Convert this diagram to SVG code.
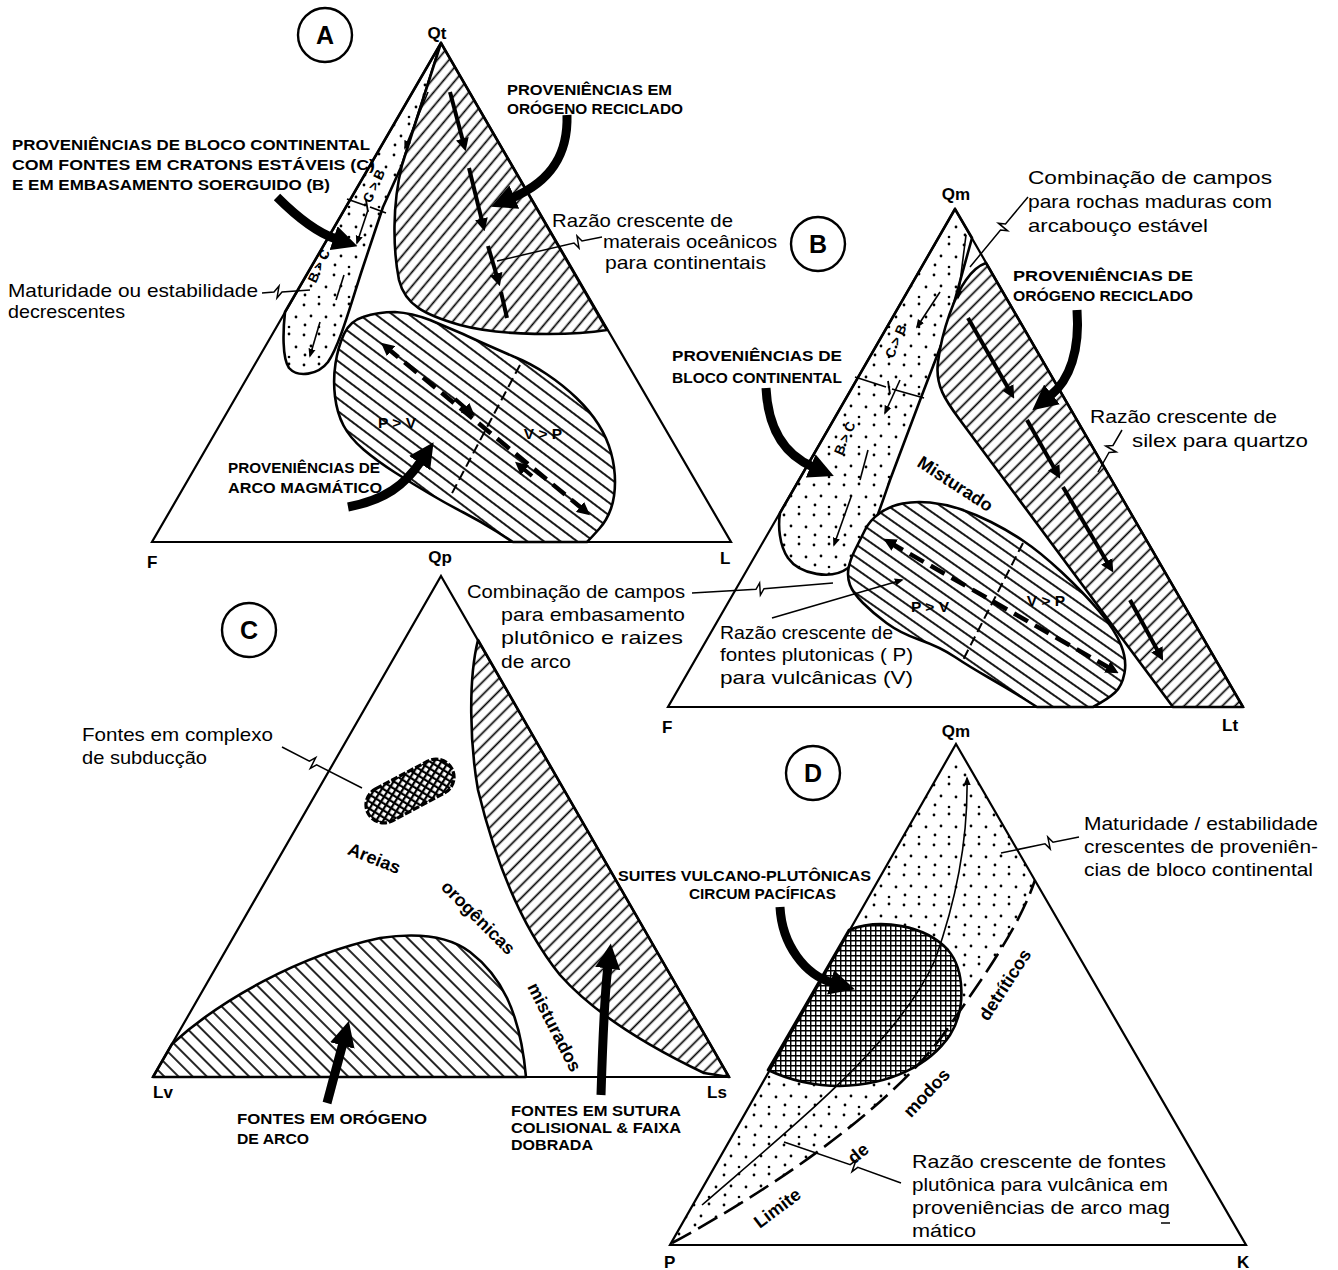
<svg xmlns="http://www.w3.org/2000/svg" width="1338" height="1270" viewBox="0 0 1338 1270">
<defs>
<style>
.tri{fill:none;stroke:#000;stroke-width:2.2;stroke-linejoin:miter}
.reg{stroke:#000;stroke-width:2.6;stroke-linejoin:round}
.t{font-family:"Liberation Sans",Arial,sans-serif;font-size:18.5px;fill:#000}
.c{font-family:"Liberation Sans",Arial,sans-serif;font-size:14.5px;font-weight:bold;fill:#000}
.pv{font-family:"Liberation Sans",Arial,sans-serif;font-size:15.5px;font-weight:bold;fill:#000}
.bc{font-family:"Liberation Sans",Arial,sans-serif;font-size:13.5px;font-weight:bold;fill:#000}
.v{font-family:"Liberation Sans",Arial,sans-serif;font-size:17px;font-weight:bold;fill:#000}
.b{font-family:"Liberation Sans",Arial,sans-serif;font-size:18px;font-weight:bold;fill:#000}
.ring{fill:#fff;stroke:#000;stroke-width:2.4}
.big{fill:none;stroke:#000;stroke-width:9;marker-end:url(#big)}
.ld{fill:none;stroke:#000;stroke-width:1.5}
.dsh{fill:none;stroke:#000;stroke-width:4.5;stroke-dasharray:16 8;marker-start:url(#md);marker-end:url(#md)}
.seg{fill:none;stroke:#000;stroke-width:4;marker-end:url(#md)}
.thin{fill:none;stroke:#000;stroke-width:1.6;marker-end:url(#sm)}
.div{fill:none;stroke:#000;stroke-width:2;stroke-dasharray:10 5}
</style>
<pattern id="h40" patternUnits="userSpaceOnUse" width="9" height="9" patternTransform="rotate(40)"><rect width="9" height="9" fill="#fff"/><line x1="4.5" y1="0" x2="4.5" y2="9" stroke="#000" stroke-width="1.7"/></pattern>
<pattern id="hm53" patternUnits="userSpaceOnUse" width="10" height="10" patternTransform="rotate(-53)"><rect width="10" height="10" fill="#fff"/><line x1="5" y1="0" x2="5" y2="10" stroke="#000" stroke-width="1.8"/></pattern>
<pattern id="h45" patternUnits="userSpaceOnUse" width="9" height="9" patternTransform="rotate(45)"><rect width="9" height="9" fill="#fff"/><line x1="4.5" y1="0" x2="4.5" y2="9" stroke="#000" stroke-width="1.7"/></pattern>
<pattern id="hm55" patternUnits="userSpaceOnUse" width="10" height="10" patternTransform="rotate(-55)"><rect width="10" height="10" fill="#fff"/><line x1="5" y1="0" x2="5" y2="10" stroke="#000" stroke-width="1.8"/></pattern>
<pattern id="hm45" patternUnits="userSpaceOnUse" width="10" height="10" patternTransform="rotate(-45)"><rect width="10" height="10" fill="#fff"/><line x1="5" y1="0" x2="5" y2="10" stroke="#000" stroke-width="1.7"/></pattern>
<pattern id="dots" patternUnits="userSpaceOnUse" width="30" height="30"><rect width="30" height="30" fill="#fff"/><circle cx="4" cy="5" r="1.4"/><circle cx="19" cy="4" r="1.4"/><circle cx="11" cy="16" r="1.4"/><circle cx="26" cy="17" r="1.4"/><circle cx="5" cy="25" r="1.4"/><circle cx="19" cy="27" r="1.3"/></pattern>
<pattern id="xh" patternUnits="userSpaceOnUse" width="5" height="5"><rect width="5" height="5" fill="#fff"/><path d="M0,0.7 H5 M0.7,0 V5" stroke="#000" stroke-width="1.5"/></pattern>
<pattern id="xh2" patternUnits="userSpaceOnUse" width="6" height="6" patternTransform="rotate(-30)"><rect width="6" height="6" fill="#fff"/><path d="M0,1 H6 M1,0 V6" stroke="#000" stroke-width="2.4"/></pattern>
<marker id="big" viewBox="0 0 10 10" refX="1" refY="5" markerWidth="2.8" markerHeight="2.8" orient="auto"><path d="M0,0 L10,5 L0,10 z" fill="#000"/></marker>
<marker id="md" viewBox="0 0 10 10" refX="5" refY="5" markerWidth="13" markerHeight="13" markerUnits="userSpaceOnUse" orient="auto-start-reverse"><path d="M0,0 L10,5 L0,10 z" fill="#000"/></marker>
<marker id="sm" viewBox="0 0 10 10" refX="8" refY="5" markerWidth="9" markerHeight="9" markerUnits="userSpaceOnUse" orient="auto"><path d="M0,1 L10,5 L0,9 z" fill="#000"/></marker>
</defs>
<rect width="1338" height="1270" fill="#fff"/>

<!-- ===== Diagram A ===== -->
<g id="diagramA">
<g id="A-band-stipple"><path class="reg" fill="url(#dots)" d="M441,43 L402,165 L383,207 L363,267 C352,300 340,345 328,362 C318,375 298,378 289,368 C282,358 283,330 285,312 Z"/></g>
<g id="A-recycled-orogen"><path class="reg" fill="url(#h40)" d="M441,43 L607,330 C570,336 500,336 460,325 C425,315 405,305 399,280 C393,250 392,205 402,165 Z"/></g>
<g id="A-magmatic-arc"><path class="reg" fill="url(#hm53)" d="M513,542 L496.5,531.5 Q480,521 463.5,512.5 Q447,504 430,494 Q413,484 395,472.5 Q377,461 363.5,449.5 Q350,438 343.5,425.5 Q337,413 335,396.5 Q333,380 335.5,363.5 Q338,347 344,334 Q350,321 363,317 Q378,312 395,312 Q412,313 430,320 Q446.5,327 463,334 Q480,342 513.5,356.5 Q530,363 546.5,374 Q563,385 576.5,398 Q590,411 598.5,424.5 Q607,438 611,452.5 Q615,467 615,482 Q615,497 611,508.5 Q607,520 599.5,528.5 Q592,537 587,542 Z"/></g>
<g id="A-triangle"><path class="tri" d="M441,43 L731,542 L152,542 Z"/></g>
<g id="A-circle"><circle class="ring" cx="325" cy="35" r="27"/><text x="325" y="44" text-anchor="middle" font-family="Liberation Sans, Arial, sans-serif" font-size="25" font-weight="bold">A</text></g>
<g id="A-labels">
<text class="v" x="437" y="39" text-anchor="middle">Qt</text>
<text class="v" x="147" y="568">F</text>
<text class="v" x="440" y="563" text-anchor="middle">Qp</text>
<text class="v" x="720" y="564">L</text>
<text class="c" x="507" y="95" textLength="165" lengthAdjust="spacingAndGlyphs">PROVENIÊNCIAS  EM</text>
<text class="c" x="507" y="114" textLength="176" lengthAdjust="spacingAndGlyphs">ORÓGENO RECICLADO</text>
<text class="c" x="12" y="150" textLength="358" lengthAdjust="spacingAndGlyphs">PROVENIÊNCIAS DE BLOCO CONTINENTAL</text>
<text class="c" x="12" y="170" textLength="363" lengthAdjust="spacingAndGlyphs">COM FONTES EM CRATONS ESTÁVEIS (C)</text>
<text class="c" x="12" y="190" textLength="318" lengthAdjust="spacingAndGlyphs">E EM EMBASAMENTO SOERGUIDO (B)</text>
<text class="t" x="552" y="227" textLength="181" lengthAdjust="spacingAndGlyphs">Razão crescente de</text>
<text class="t" x="603" y="248" textLength="174" lengthAdjust="spacingAndGlyphs">materais oceânicos</text>
<text class="t" x="605" y="269" textLength="161" lengthAdjust="spacingAndGlyphs">para continentais</text>
<text class="t" x="8" y="297" textLength="250" lengthAdjust="spacingAndGlyphs">Maturidade ou estabilidade</text>
<text class="t" x="8" y="318" textLength="117" lengthAdjust="spacingAndGlyphs">decrescentes</text>
<text class="c" x="228" y="473" textLength="152" lengthAdjust="spacingAndGlyphs">PROVENIÊNCIAS DE</text>
<text class="c" x="228" y="493" textLength="154" lengthAdjust="spacingAndGlyphs">ARCO MAGMÁTICO</text>
<text class="pv" x="397" y="428" text-anchor="middle">P &gt; V</text>
<text class="pv" x="543" y="439" text-anchor="middle">V &gt; P</text>
<text class="bc" transform="translate(378,188) rotate(-65)" text-anchor="middle">C &gt; B</text>
<text class="bc" transform="translate(323,268) rotate(-65)" text-anchor="middle">B &gt; C</text>
</g>
</g>

<!-- ===== Diagram B ===== -->
<g id="diagramB">
<g id="B-band-stipple"><path class="reg" fill="url(#dots)" d="M955,209 L972,238 C966,260 955,300 945,335 L922,395 L890,480 C878,515 866,552 848,568 C832,580 800,575 788,558 C779,545 778,525 780,513 Z"/></g>
<g id="B-recycled-orogen"><path class="reg" fill="url(#h45)" d="M986,263 L1243,707 L1173,707 L960,420 C945,400 935,385 938,362 C942,330 955,295 966,280 C973,270 980,265 986,263 Z"/></g>
<g id="B-magmatic-arc"><path class="reg" fill="url(#hm55)" d="M1037,707 L1022,697.5 Q1007,688 988.5,677.5 Q970,667 955,657 Q940,647 920,640 Q900,633 886.5,623 Q873,613 863,603 Q853,593 850,585 Q847,577 848.5,568.5 Q850,560 855,550 Q860,540 865,530 Q870,520 880,513 Q890,506 902.5,503.5 Q915,501 930,502.5 Q945,504 960,509 Q975,514 991,522 Q1007,530 1023.5,541 Q1040,552 1061.5,572 Q1083,592 1099,611 Q1115,630 1121,645 Q1127,660 1124.5,673 Q1122,686 1115,692.5 Q1108,699 1093,707 Z"/></g>
<g id="B-triangle"><path class="tri" d="M955,209 L1243,707 L668,707 Z"/></g>
<g id="B-circle"><circle class="ring" cx="818" cy="244" r="27"/><text x="818" y="253" text-anchor="middle" font-family="Liberation Sans, Arial, sans-serif" font-size="25" font-weight="bold">B</text></g>
<g id="B-labels">
<text class="v" x="956" y="200" text-anchor="middle">Qm</text>
<text class="v" x="662" y="733">F</text>
<text class="v" x="1222" y="731">Lt</text>
<text class="t" x="1028" y="184" textLength="244" lengthAdjust="spacingAndGlyphs">Combinação de  campos</text>
<text class="t" x="1028" y="208" textLength="244" lengthAdjust="spacingAndGlyphs">para rochas maduras com</text>
<text class="t" x="1028" y="232" textLength="180" lengthAdjust="spacingAndGlyphs">arcabouço estável</text>
<text class="c" x="1013" y="281" textLength="180" lengthAdjust="spacingAndGlyphs">PROVENIÊNCIAS  DE</text>
<text class="c" x="1013" y="301" textLength="180" lengthAdjust="spacingAndGlyphs">ORÓGENO RECICLADO</text>
<text class="c" x="672" y="361" textLength="170" lengthAdjust="spacingAndGlyphs">PROVENIÊNCIAS DE</text>
<text class="c" x="672" y="383" textLength="170" lengthAdjust="spacingAndGlyphs">BLOCO CONTINENTAL</text>
<text class="t" x="1090" y="423" textLength="187" lengthAdjust="spacingAndGlyphs">Razão crescente de</text>
<text class="t" x="1132" y="447" textLength="176" lengthAdjust="spacingAndGlyphs">silex para quartzo</text>
<text class="b" transform="translate(952,489) rotate(33)" text-anchor="middle">Misturado</text>
<text class="t" x="720" y="639" textLength="173" lengthAdjust="spacingAndGlyphs">Razão crescente de</text>
<text class="t" x="720" y="661" textLength="193" lengthAdjust="spacingAndGlyphs">fontes plutonicas ( P)</text>
<text class="t" x="720" y="684" textLength="193" lengthAdjust="spacingAndGlyphs">para vulcânicas  (V)</text>
<text class="pv" x="930" y="612" text-anchor="middle">P &gt; V</text>
<text class="pv" x="1046" y="606" text-anchor="middle">V &gt; P</text>
<text class="bc" transform="translate(900,343) rotate(-67)" text-anchor="middle">C &gt; B</text>
<text class="bc" transform="translate(849,440) rotate(-67)" text-anchor="middle">B &gt; C</text>
</g>
</g>

<!-- ===== Diagram C ===== -->
<g id="diagramC">
<g id="C-suture-band"><path class="reg" fill="url(#h45)" d="M478,640 L729,1077 L704,1073 C660,1052 600,1020 560,975 C520,925 495,860 478,790 C470,745 468,680 478,640 Z"/></g>
<g id="C-arc-orogen"><path class="reg" fill="url(#hm45)" d="M153,1077 L172,1044 C220,1000 300,955 380,938 C420,932 450,937 470,952 C500,975 520,1010 526,1077 Z"/></g>
<g id="C-subduction"><rect x="362.5" y="773" width="95" height="36" rx="18" transform="rotate(-28 410 791)" fill="url(#xh2)" stroke="#000" stroke-width="3.2" stroke-dasharray="7 2"/></g>
<g id="C-triangle"><path class="tri" d="M441,576 L729,1077 L153,1077 Z"/></g>
<g id="C-circle"><circle class="ring" cx="249" cy="630" r="27"/><text x="249" y="639" text-anchor="middle" font-family="Liberation Sans, Arial, sans-serif" font-size="25" font-weight="bold">C</text></g>
<g id="C-labels">
<text class="v" x="153" y="1098">Lv</text>
<text class="v" x="707" y="1098">Ls</text>
<text class="t" x="467" y="598" textLength="218" lengthAdjust="spacingAndGlyphs">Combinação de campos</text>
<text class="t" x="501" y="621" textLength="184" lengthAdjust="spacingAndGlyphs">para embasamento</text>
<text class="t" x="501" y="644" textLength="182" lengthAdjust="spacingAndGlyphs">plutônico  e  raizes</text>
<text class="t" x="501" y="668" textLength="70" lengthAdjust="spacingAndGlyphs">de arco</text>
<text class="t" x="82" y="741" textLength="191" lengthAdjust="spacingAndGlyphs">Fontes em complexo</text>
<text class="t" x="82" y="764" textLength="125" lengthAdjust="spacingAndGlyphs">de subducção</text>
<text class="b" transform="translate(372,864) rotate(22)" text-anchor="middle">Areias</text>
<text class="b" transform="translate(474,922) rotate(45)" text-anchor="middle">orogênicas</text>
<text class="b" transform="translate(549,1030) rotate(63)" text-anchor="middle">misturados</text>
<text class="c" x="618" y="881" textLength="253" lengthAdjust="spacingAndGlyphs">SUITES VULCANO-PLUTÔNICAS</text>
<text class="c" x="689" y="899" textLength="147" lengthAdjust="spacingAndGlyphs">CIRCUM PACÍFICAS</text>
<text class="c" x="237" y="1124" textLength="190" lengthAdjust="spacingAndGlyphs">FONTES EM ORÓGENO</text>
<text class="c" x="237" y="1144" textLength="72" lengthAdjust="spacingAndGlyphs">DE ARCO</text>
<text class="c" x="511" y="1116" textLength="170" lengthAdjust="spacingAndGlyphs">FONTES EM SUTURA</text>
<text class="c" x="511" y="1133" textLength="170" lengthAdjust="spacingAndGlyphs">COLISIONAL &amp; FAIXA</text>
<text class="c" x="511" y="1150" textLength="82" lengthAdjust="spacingAndGlyphs">DOBRADA</text>
</g>
</g>

<!-- ===== Diagram D ===== -->
<g id="diagramD">
<g id="D-stipple"><path fill="url(#dots)" stroke="none" d="M956,744 L670,1245 C780,1185 900,1100 950,1025 C985,975 1020,925 1035,880 Z"/></g>
<g id="D-circum-pacific"><path class="reg" fill="url(#xh)" d="M849,930 C880,918 925,925 948,950 C965,970 966,1010 950,1035 C930,1065 890,1085 840,1086 C810,1086 785,1078 768,1070 Z"/></g>
<g id="D-limit"><path fill="none" stroke="#000" stroke-width="2.6" stroke-dasharray="22 8" d="M672,1243 C780,1185 900,1100 950,1025 C985,975 1020,925 1035,880"/></g>
<g id="D-triangle"><path class="tri" d="M956,744 L1246,1245 L670,1245 Z"/></g>
<g id="D-circle"><circle class="ring" cx="813" cy="773" r="27"/><text x="813" y="782" text-anchor="middle" font-family="Liberation Sans, Arial, sans-serif" font-size="25" font-weight="bold">D</text></g>
<g id="D-labels">
<text class="v" x="956" y="737" text-anchor="middle">Qm</text>
<text class="v" x="664" y="1268">P</text>
<text class="v" x="1237" y="1268">K</text>
<text class="t" x="1084" y="830" textLength="234" lengthAdjust="spacingAndGlyphs">Maturidade / estabilidade</text>
<text class="t" x="1084" y="853" textLength="234" lengthAdjust="spacingAndGlyphs">crescentes de proveniên-</text>
<text class="t" x="1084" y="876" textLength="229" lengthAdjust="spacingAndGlyphs">cias de bloco continental</text>
<text class="t" x="912" y="1168" textLength="254" lengthAdjust="spacingAndGlyphs">Razão crescente de  fontes</text>
<text class="t" x="912" y="1191" textLength="256" lengthAdjust="spacingAndGlyphs">plutônica para vulcânica em</text>
<text class="t" x="912" y="1214" textLength="258" lengthAdjust="spacingAndGlyphs">proveniências de arco  mag</text>
<text class="t" x="912" y="1237" textLength="64" lengthAdjust="spacingAndGlyphs">mático</text>
<text class="b" transform="translate(781,1213) rotate(-37)" text-anchor="middle">Limite</text>
<text class="b" transform="translate(862,1158) rotate(-40)" text-anchor="middle">de</text>
<text class="b" transform="translate(931,1097) rotate(-47)" text-anchor="middle">modos</text>
<text class="b" transform="translate(1010,988) rotate(-57)" text-anchor="middle">detríticos</text>
</g>
</g>

<!-- ===== Connectors ===== -->
<g id="connectors">
<path class="big" d="M567,115 C568,150 555,180 512,198"/>
<path class="big" d="M277,197 C295,215 315,232 336,239"/>
<path class="big" d="M348,507 C385,500 405,485 421,461"/>
<path class="big" d="M1077,310 C1080,350 1070,380 1050,396"/>
<path class="big" d="M766,388 C768,430 785,455 813,467"/>
<path class="big" d="M327,1103 L343,1043"/>
<path class="big" d="M601,1095 C603,1030 605,990 608,966"/>
<path class="big" d="M780,907 C782,945 805,975 833,983"/>
<path class="dsh" d="M386,347 L585,511"/>
<path class="dsh" d="M889,542 L1113,670"/>
<path class="seg" d="M455,399 L470,412"/>
<path class="seg" d="M532,476 L520,466"/>
<path class="div" d="M520,365 L450,497"/>
<path class="div" d="M1023,543 L963,660"/>
<path class="seg" d="M450,92 L464,145"/>
<path class="seg" d="M469,168 L483,225"/>
<path class="seg" d="M488,246 L498,280"/>
<path fill="none" stroke="#000" stroke-width="4" d="M501,292 L507,318"/>
<path class="seg" d="M968,318 L1011,393"/>
<path class="seg" d="M1027,420 L1057,473"/>
<path class="seg" d="M1063,487 L1110,567"/>
<path class="seg" d="M1130,600 L1160,655"/>
<path class="thin" d="M428,92 L405,148"/>
<path class="thin" d="M368,210 L357,243"/>
<path fill="none" stroke="#000" stroke-width="1.6" d="M344,275 L336,300"/>
<path class="thin" d="M320,322 L310,356"/>
<path class="thin" d="M966,235 L958,298"/>
<path class="thin" d="M940,292 L917,327"/>
<path class="thin" d="M900,380 L885,413"/>
<path fill="none" stroke="#000" stroke-width="1.6" d="M868,450 L860,480"/>
<path class="thin" d="M851,497 L834,545"/>
<path fill="none" stroke="#000" stroke-width="1.8" d="M347,199 L364,205 M370,207 L386,213 M366,200 L368,212"/>
<path fill="none" stroke="#000" stroke-width="1.8" d="M855,377 L886,387 M892,389 L924,398 M888,381 L890,394"/>
<path class="thin" d="M702,1205 C800,1120 900,1040 935,960 C960,890 968,830 967,778"/>
<line x1="1161" y1="1223" x2="1170" y2="1223" stroke="#000" stroke-width="1.5"/>
<path class="ld" d="M262,293 L274,292 L279,286 L277,298 L282,292 L310,290"/>
<path class="ld" d="M602,237 L582,241 L577,236 L579,248 L574,243 L497,261"/>
<path class="ld" d="M1028,197 L1005.5,224 L998.4,223.2 L1007.6,230.8 L1000.5,230 L970,267"/>
<path class="ld" d="M1122,430 L1113,445.5 L1105.8,446 L1116.2,452 L1109,452.5 L1098,472"/>
<path class="ld" d="M692,593 L756,589.3 L759.6,583 L760.4,595 L764,588.7 L833,583"/>
<path class="ld" d="M282,747 L309.4,761.2 L315.7,757.7 L310.3,768.3 L316.6,764.8 L362,788"/>
<path class="ld" d="M1079,837 L1053,842.2 L1047.8,837.1 L1050.2,848.9 L1045,843.8 L1001,853"/>
<path class="ld" d="M901,1183 L857.8,1167.3 L852,1171.7 L856,1160.3 L850.2,1164.7 L784,1142"/>
<path class="thin" d="M772,618 L902,580"/>
</g>
</svg>
